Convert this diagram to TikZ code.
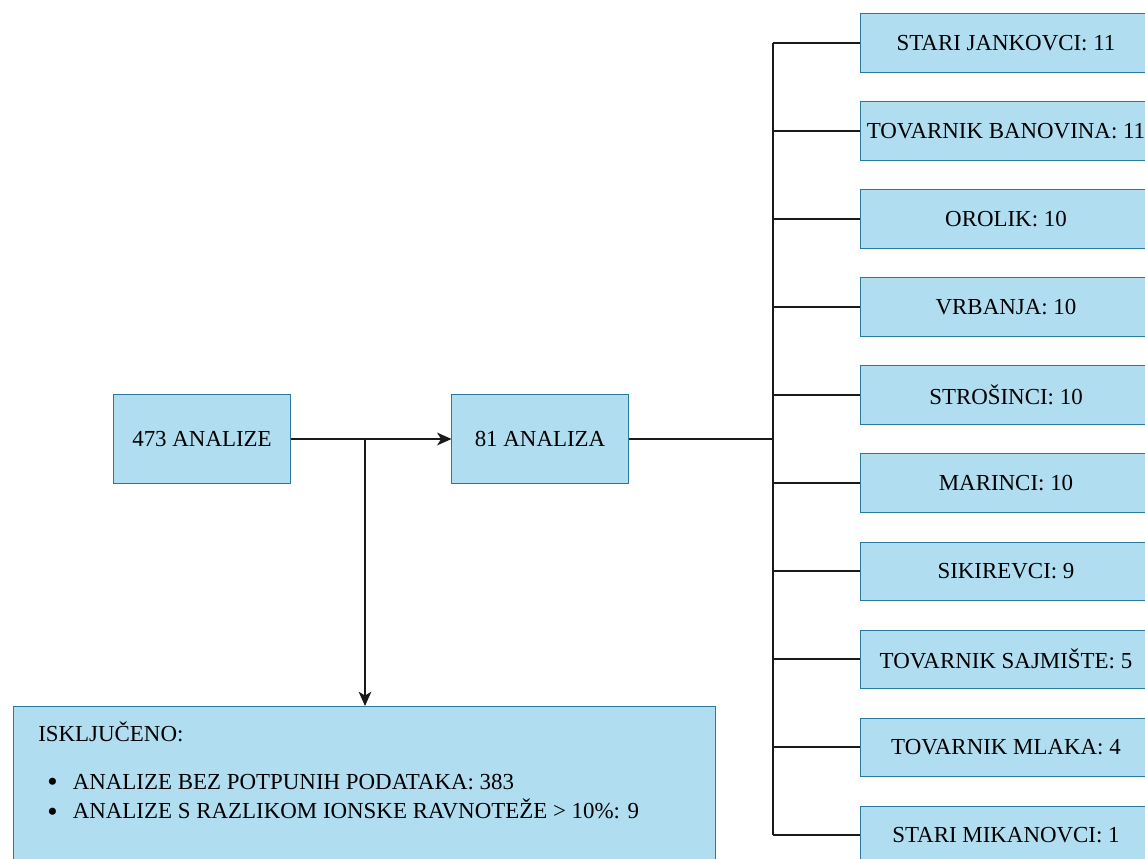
\documentclass[tikz,border=0pt]{standalone}
\usepackage{fontspec}
\setmainfont{Liberation Serif}
\usepackage{xcolor}
\usetikzlibrary{arrows.meta}
\definecolor{boxfill}{HTML}{B1DDF0}
\definecolor{boxline}{HTML}{2A7A9E}
\definecolor{wire}{HTML}{1A1A1A}
\newcommand{\bigdot}{\raisebox{-1.8pt}{\fontsize{21}{19}\selectfont\textbullet}\hspace{0.38cm}}

\begin{document}
\begin{tikzpicture}[x=0.025cm,y=-0.025cm,
  box/.style={draw=boxline,fill=boxfill,line width=0.7pt,inner sep=0pt,
    font=\fontsize{16.3}{19}\selectfont},
  bigbox/.style={box,minimum width=4.4cm,minimum height=2.2cm},
  sitebox/.style={box,minimum width=7.25cm,minimum height=1.45cm},
  wire/.style={draw=wire,line width=0.9pt},
  tip/.style={-{Stealth[length=3.6mm,width=3.2mm,inset=1mm]}},
  lbl/.style={inner sep=0pt,anchor=west,font=\fontsize{16.3}{19}\selectfont}]
\useasboundingbox (0,0) rectangle (1145,859);
\clip (0,0) rectangle (1145,859);
\draw (202,439) node[bigbox](an473) {473 ANALIZE};
\draw (540,439) node[bigbox](an81) {81 ANALIZA};
\draw (13,706) node[box,anchor=north west,minimum width=17.55cm,minimum height=4.35cm](iskl) {};
\draw (38,732) node[lbl](isklt) {ISKLJUČENO:};
\draw (47,783) node[lbl](bezp) {\bigdot ANALIZE BEZ POTPUNIH PODATAKA: 383};
\draw (47,810) node[lbl](razl) {\bigdot ANALIZE S RAZLIKOM IONSKE RAVNOTEŽE > 10\%: 9};
\draw (1006,43) node[sitebox](sjank) {STARI JANKOVCI: 11};
\draw (1006,131) node[sitebox](tban) {TOVARNIK BANOVINA: 11};
\draw (1006,219) node[sitebox](orol) {OROLIK: 10};
\draw (1006,307) node[sitebox](vrb) {VRBANJA: 10};
\draw (1006,395) node[sitebox](stro) {STROŠINCI: 10};
\draw (1006,483) node[sitebox](mar) {MARINCI: 10};
\draw (1006,571) node[sitebox](sik) {SIKIREVCI: 9};
\draw (1006,659) node[sitebox](tsaj) {TOVARNIK SAJMIŠTE: 5};
\draw (1006,747) node[sitebox](tmla) {TOVARNIK MLAKA: 4};
\draw (1006,835) node[sitebox](smik) {STARI MIKANOVCI: 1};
\coordinate (split) at (365,439);
\coordinate (bus) at (773,439);
\draw[wire,tip] (an473) -- (an81);
\draw[wire,tip] (split) -- (split |- iskl.north);
\draw[wire] (an81) -- (bus);
\draw[wire] (sjank.west -| bus) -- (smik.west -| bus);
\foreach \s in {sjank,tban,orol,vrb,stro,mar,sik,tsaj,tmla,smik}
  \draw[wire] (\s.west -| bus) -- (\s.west);
\end{tikzpicture}
\end{document}
